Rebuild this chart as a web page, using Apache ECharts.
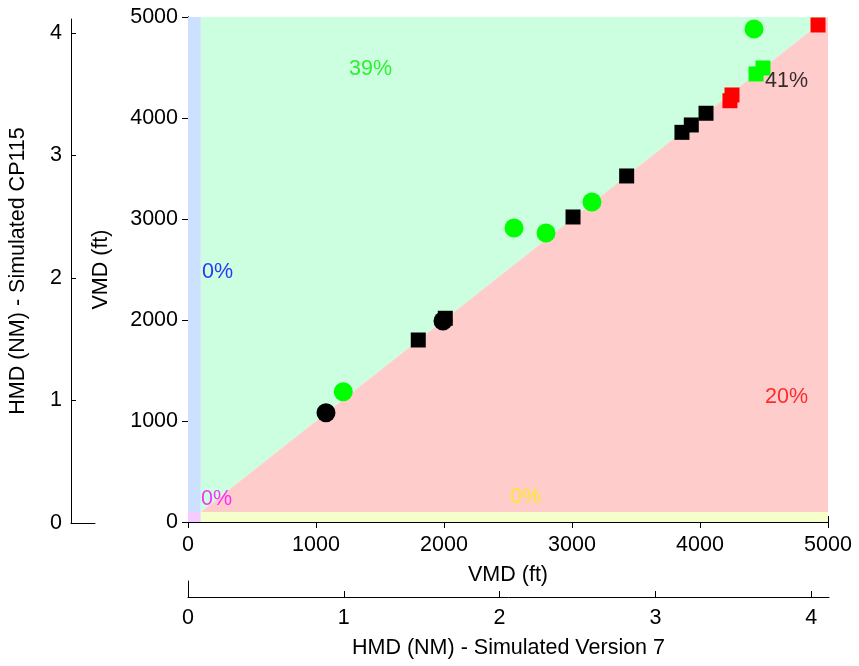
<!DOCTYPE html>
<html>
<head>
<meta charset="utf-8">
<script src="https://cdn.jsdelivr.net/npm/echarts@6/dist/echarts.min.js"></script>
<style>
html,body{margin:0;padding:0;background:#fff;}
#c{width:859px;height:666px;}
</style>
</head>
<body>
<div id="c"></div>
<script>
// ---- data (VMD in ft) ----
const blackCircles = [[1078,1082],[1992,1990]];
const greenCircles = [[1213,1290],[2547,2911],[2797,2861],[3156,3168],[4422,4881]];
const blackSquares = [[1799,1802],[2010,2017],[3008,3020],[3427,3426],[3859,3858],[3932,3931],[4047,4047]];
const greenSquares = [[4438,4436],[4492,4495]];
const redSquares = [[4234,4171],[4250,4228],[4922,4921]];

// region polygons (VMD ft)
const regionBlue = [[0,100],[100,100],[100,5000],[0,5000]];
const regionMagenta = [[0,0],[100,0],[100,100],[0,100]];
const regionYellow = [[100,0],[5000,0],[5000,100],[100,100]];
const regionGreen = [[100,100],[5000,5000],[100,5000]];
const regionRed = [[100,100],[5000,100],[5000,5000]];

// percentage annotations [x, y, text, colour]
const annotations = [
  [1258,4485,'39%','#00ee00'],
  [4508,4366,'41%','#000000'],
  [109,2475,'0%','#0000ff'],
  [4508,1238,'20%','#ff0000'],
  [102,228,'0%','#ff00ff'],
  [2516,248,'0%','#ffee00']
];

const vmdTicks = [0,1000,2000,3000,4000,5000];
const hmdTicks = [0,1,2,3,4];
const hmdMax = 25000/6076.12;

const FONT = 'Liberation Sans';
const FS = 21.5;

function regionSeries(poly, color){
  return {
    type:'custom', xAxisIndex:0, yAxisIndex:0, silent:true, z:1,
    data:[0],
    renderItem:function(params, api){
      return {
        type:'polygon',
        shape:{points: poly.map(p=>api.coord(p))},
        style:{fill:color}
      };
    }
  };
}

const chart = echarts.init(document.getElementById('c'), null, {renderer:'canvas'});
const lbl = {color:'#000', fontFamily:FONT, fontSize:FS};
const line = {show:true, lineStyle:{color:'#000', width:1}};
const plain = v => String(v);

function markers(data, symbol, size, color, z){
  return {type:'scatter', xAxisIndex:0, yAxisIndex:0, z:z, symbol:symbol, symbolSize:size,
    data:data, itemStyle:{color:color, opacity:1}, emphasis:{disabled:true}};
}

chart.setOption({
  animation:false,
  backgroundColor:'#fff',
  grid:[
    {left:188, top:17, width:640, height:505},
    {left:71, top:19, width:24, height:504},
    {left:188, top:581, width:641, height:16}
  ],
  xAxis:[
    {gridIndex:0, type:'value', min:0, max:5000, interval:1000, position:'bottom',
     axisLine:line, axisTick:{inside:true, length:6, lineStyle:{color:'#000'}},
     axisLabel:Object.assign({margin:12, formatter:plain}, lbl), splitLine:{show:false},
     name:'VMD (ft)', nameLocation:'middle', nameGap:42, nameTextStyle:lbl},
    {gridIndex:0, type:'value', min:0, max:5000, interval:1000, position:'top',
     axisLine:line, axisTick:{inside:true, length:6, lineStyle:{color:'#000'}},
     axisLabel:{show:false}, splitLine:{show:false}},
    {gridIndex:1, type:'value', min:0, max:1, position:'bottom',
     axisLine:line, axisTick:{show:false}, axisLabel:{show:false}, splitLine:{show:false}},
    {gridIndex:2, type:'value', min:0, max:hmdMax, position:'bottom',
     axisLine:line,
     axisTick:{inside:true, length:6, lineStyle:{color:'#000'}, customValues:hmdTicks},
     axisLabel:Object.assign({margin:10, customValues:hmdTicks, formatter:plain}, lbl), splitLine:{show:false},
     name:'HMD (NM) - Simulated Version 7', nameLocation:'middle', nameGap:40, nameTextStyle:lbl}
  ],
  yAxis:[
    {gridIndex:0, type:'value', min:0, max:5000, interval:1000, position:'left',
     axisLine:line, axisTick:{inside:true, length:6, lineStyle:{color:'#000'}},
     axisLabel:Object.assign({margin:10, formatter:plain}, lbl), splitLine:{show:false},
     name:'VMD (ft)', nameLocation:'middle', nameGap:76, nameTextStyle:lbl},
    {gridIndex:0, type:'value', min:0, max:5000, interval:1000, position:'right',
     axisLine:line, axisTick:{inside:true, length:6, lineStyle:{color:'#000'}},
     axisLabel:{show:false}, splitLine:{show:false}},
    {gridIndex:1, type:'value', min:0, max:hmdMax, position:'left',
     axisLine:line,
     axisTick:{inside:true, length:5, lineStyle:{color:'#000'}, customValues:hmdTicks},
     axisLabel:Object.assign({margin:9, customValues:hmdTicks, formatter:plain}, lbl), splitLine:{show:false},
     name:'HMD (NM) - Simulated CP115', nameLocation:'middle', nameGap:42, nameTextStyle:lbl},
    {gridIndex:2, type:'value', min:0, max:1, position:'left',
     axisLine:line, axisTick:{show:false}, axisLabel:{show:false}, splitLine:{show:false}}
  ],
  series:[
    regionSeries(regionBlue,'#cce0ff'),
    regionSeries(regionMagenta,'#f5ccff'),
    regionSeries(regionYellow,'#f5ffcc'),
    regionSeries(regionGreen,'#ccffe0'),
    regionSeries(regionRed,'#ffcccc'),
    markers(blackSquares,'rect',15,'#000000',3),
    markers(greenSquares,'rect',15,'#00ff00',3),
    markers(redSquares,'rect',15,'#ff0000',3),
    markers(blackCircles,'circle',19,'#000000',4),
    markers(greenCircles,'circle',19,'#00ff00',4),
    {type:'scatter', xAxisIndex:0, yAxisIndex:0, z:5, symbolSize:0, silent:true,
     data:annotations.map(a=>({value:[a[0],a[1]], label:{color:a[3]}, name:a[2]})),
     label:{show:true, position:'right', distance:0, formatter:'{b}', fontFamily:FONT, fontSize:FS}}
  ]
});
</script>
</body>
</html>
